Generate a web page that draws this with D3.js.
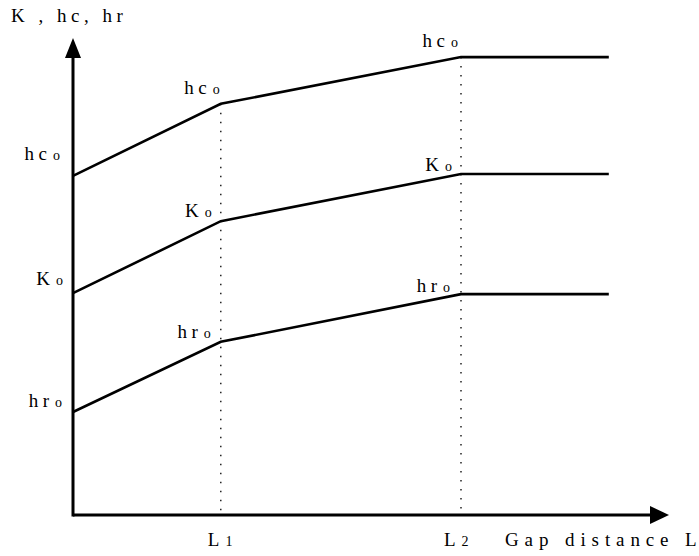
<!DOCTYPE html>
<html><head><meta charset="utf-8">
<script src="https://cdn.jsdelivr.net/npm/d3@7"></script>
<style>body{margin:0;background:#fff}svg{display:block}</style>
</head><body>
<script>
// Gap distance positions: origin, L1, L2, end of plotted lines
const gapPositions = [0, 24.8, 65.1, 89.9];
const xTickLabels = [{pos: 24.8, main: "L", sub: "1"}, {pos: 65.1, main: "L", sub: "2"}];
const hcValues = [71.1, 86.2, 96.0, 96.0];
const kValues = [46.5, 61.6, 71.5, 71.5];
const hrValues = [21.6, 36.3, 46.3, 46.3];
const seriesNames = [
  {key: "hc", values: hcValues},
  {key: "K", values: kValues},
  {key: "hr", values: hrValues}
];
const axisTitleY = "K , hc, hr";
const axisTitleX = "Gap distance L";

const FONT = '"Liberation Serif"';
const W = 699, H = 556;
const svg = d3.select("body").append("svg").attr("width", W).attr("height", H);
const x = d3.scaleLinear().domain([0, 100]).range([73, 669]);
const y = d3.scaleLinear().domain([0, 100]).range([515, 38]);

// dotted verticals
[gapPositions[1], gapPositions[2]].forEach((g, i) => {
  const top = d3.max(seriesNames, s => s.values[i + 1]);
  svg.append("line").attr("x1", x(g)).attr("x2", x(g))
    .attr("y1", y(top)).attr("y2", y(0))
    .attr("stroke", "#000").attr("stroke-width", 1.3)
    .attr("stroke-dasharray", "1.3,7.7");
});

// axes
svg.append("line").attr("x1", x(0)).attr("x2", x(100) - 14).attr("y1", y(0)).attr("y2", y(0))
  .attr("stroke", "#000").attr("stroke-width", 3);
svg.append("line").attr("x1", x(0)).attr("x2", x(0)).attr("y1", y(0) + 1.5).attr("y2", y(100) + 16)
  .attr("stroke", "#000").attr("stroke-width", 3);
svg.append("path").attr("d", `M${x(100)},${y(0)} L${x(100)-19},${y(0)-9} L${x(100)-19},${y(0)+9} Z`).attr("fill", "#000");
svg.append("path").attr("d", `M${x(0)},${y(100)} L${x(0)-8},${y(100)+20} L${x(0)+8},${y(100)+20} Z`).attr("fill", "#000");

// lines
const line = d3.line().x((d, i) => x(gapPositions[i])).y(d => y(d));
seriesNames.forEach(s => {
  svg.append("path").datum(s.values).attr("d", line)
    .attr("fill", "none").attr("stroke", "#000").attr("stroke-width", 2.6)
    .attr("stroke-linejoin", "miter");
});

// label layout offsets [dx of right edge, dy of baseline] relative to the point
const labelOffsets = {
  hc: [[-13, -16], [-1, -10], [-3, -10]],
  K: [[-10, -8], [-9, -4], [-9, -3]],
  hr: [[-11, -5], [-10, -4], [-11, -2]]
};
function label(xp, yp, main, sub, anchor, subSize) {
  const t = svg.append("text").attr("x", xp).attr("y", yp)
    .style("font-family", FONT).attr("fill", "#000")
    .attr("text-anchor", anchor).style("font-size", "19px");
  t.append("tspan").style("letter-spacing", "4.5px").text(main);
  t.append("tspan").attr("dx", 1.5).style("font-size", subSize + "px").style("letter-spacing", "0px").text(sub);
  return t;
}
seriesNames.forEach(s => {
  for (let i = 0; i < 3; i++) {
    const off = labelOffsets[s.key][i];
    label(x(gapPositions[i]) + off[0], y(s.values[i]) + off[1], s.key, "o", "end", 14);
  }
});

const tickOffsets = [-13, -17];
xTickLabels.forEach((t, i) => {
  label(x(t.pos) + tickOffsets[i], 546, t.main, t.sub, "start", 14);
});

const xt = svg.append("text").attr("x", 505).attr("y", 546).style("font-family", FONT).style("font-size", "19px");
xt.append("tspan").style("letter-spacing", "5.9px").text(axisTitleX.slice(0, -1));
xt.append("tspan").style("letter-spacing", "0px").text(axisTitleX.slice(-1));
svg.append("text").attr("x", 11).attr("y", 22).style("font-family", FONT).style("font-size", "19px")
  .style("letter-spacing", "4.5px").text(axisTitleY);
</script>
</body></html>
